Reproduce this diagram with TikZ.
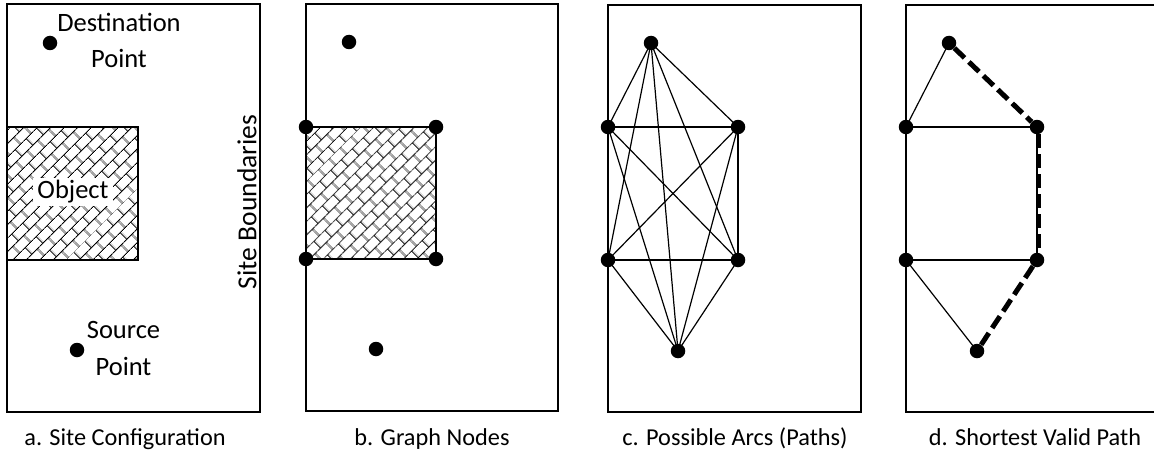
\documentclass[tikz,border=0pt]{standalone}
\usepackage{fontspec}
\setmainfont{Carlito}
\usetikzlibrary{patterns.meta}

\tikzdeclarepattern{
  name=diagbrick,
  bottom left={(0pt,0pt)},
  top right={(16pt,20pt)},
  tile size={(16pt,20pt)},
  tile transformation={rotate=45},
  code={
    \draw[line width=1pt] (0pt,2.5pt) -- (16pt,2.5pt);
    \draw[line width=1pt] (0pt,12.5pt) -- (16pt,12.5pt);
    \draw[line width=1pt] (4pt,2.5pt) -- (4pt,12.5pt);
    \draw[line width=1pt] (12pt,12.5pt) -- (12pt,20pt);
    \draw[line width=1pt] (12pt,0pt) -- (12pt,2.5pt);
  }
}

\begin{document}
\begin{tikzpicture}[x=1pt,y=-1pt,
  dot/.style={circle,fill=black,inner sep=0pt,minimum size=14.5pt},
  frame/.style={draw=black,line width=2pt},
  obj/.style={draw=black,line width=2.3pt,pattern=diagbrick},
  arc/.style={draw=black,line width=1.2pt},
  side/.style={draw=black,line width=2pt},
  best/.style={draw=black,line width=5pt,dash pattern=on 14pt off 6pt},
  lbl/.style={font=\fontsize{26.5}{32}\selectfont,inner sep=0pt},
  captxt/.style={font=\fontsize{24.3}{29}\selectfont,inner sep=0pt,anchor=base}]
\useasboundingbox (0,0) rectangle (1154,452);

% ---------- panel a ----------
\draw[frame] (7,4) rectangle (260,412);
\draw[obj] (7,127) rectangle (138,260);
\node[lbl,fill=white,inner xsep=4pt,inner ysep=3pt] (objlabel) at (73,192) {Object};
\node[dot] (adest) at (50,43) {};
\node[dot] (asrc) at (77,350) {};
\node[lbl,anchor=base] (dest1) at (119,32) {Destination};
\node[lbl,anchor=base] (dest2) at (119,68) {Point};
\node[lbl,anchor=base] (src1) at (123.5,338) {Source};
\node[lbl,anchor=base] (src2) at (123.5,375) {Point};
\node[lbl,font=\fontsize{27.5}{32}\selectfont,rotate=90] (site) at (247,202) {Site Boundaries};
\node[captxt] (capa) at (125,445) {a. Site Configuration};

% ---------- panel b ----------
\draw[frame] (306,4) rectangle (558,411);
\draw[obj] (306,127) rectangle (436,259);
\node[dot] (bt) at (349,42) {};
\node[dot] (blt) at (306,127) {};
\node[dot] (brt) at (436,127) {};
\node[dot] (blb) at (306,259) {};
\node[dot] (brb) at (436,259) {};
\node[dot] (bb) at (376,349) {};
\node[captxt] (capb) at (432,445) {b. Graph Nodes};

% ---------- panel c ----------
\draw[frame] (608,5) rectangle (861,412);
\node[dot] (c1) at (651,43) {};
\node[dot] (c2) at (608,127) {};
\node[dot] (c3) at (738,127) {};
\node[dot] (c4) at (608,260) {};
\node[dot] (c5) at (738,260) {};
\node[dot] (c6) at (678,351) {};
\foreach \i/\j in {1/2,1/3,1/4,1/5,1/6,2/3,2/4,2/5,2/6,3/4,3/5,3/6,4/5,4/6,5/6}
  \draw[arc] (c\i.center) -- (c\j.center);
\node[captxt] (capc) at (735,445) {c. Possible Arcs (Paths)};

% ---------- panel d ----------
\draw[frame] (1160,5) -- (906,5) -- (906,412) -- (1160,412);
\node[dot] (d1) at (949,43) {};
\node[dot] (d2) at (906,127) {};
\node[dot] (d3) at (1037,127) {};
\node[dot] (d4) at (906,260) {};
\node[dot] (d5) at (1037,260) {};
\node[dot] (d6) at (977,351) {};
\draw[arc] (d1.center) -- (d2.center);
\draw[arc] (d4.center) -- (d6.center);
\draw[side] (d2.center) -- (d3.center);
\draw[side] (d2.center) -- (d4.center);
\draw[side] (d4.center) -- (d5.center);
\draw[side] (d3.center) -- (d5.center);
\draw[best] (d1) -- (d3);
\draw[best] ([xshift=1.5pt]d3.south) -- ([xshift=1.5pt]d5.north);
\draw[best] (d5) -- (d6);
\node[captxt] (capd) at (1035,445) {d. Shortest Valid Path};
\end{tikzpicture}
\end{document}
